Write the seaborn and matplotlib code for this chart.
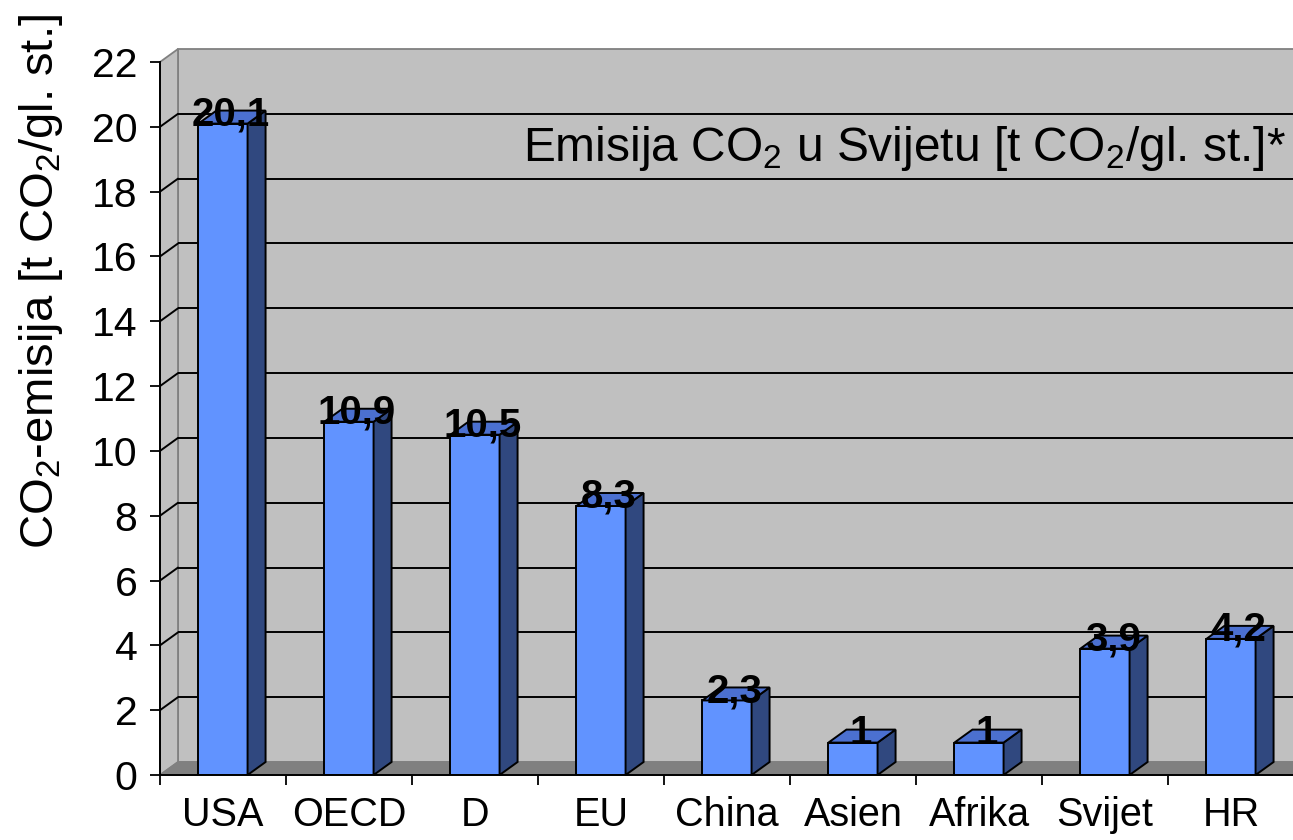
import numpy as np
import pandas as pd
import matplotlib
matplotlib.use("Agg")
import matplotlib.pyplot as plt
from matplotlib.patches import Polygon
from matplotlib.ticker import FixedLocator
import seaborn as sns

# Per-capita CO2 emissions by region
regions = ["USA", "OECD", "D", "EU", "China", "Asien", "Afrika", "Svijet", "HR"]
emissions = [20.1, 10.9, 10.5, 8.3, 2.3, 1, 1, 3.9, 4.2]
y_ticks = list(range(0, 23, 2))

sns.set_theme(style="white")
plt.rcParams["font.family"] = ["Liberation Sans", "DejaVu Sans"]
plt.rcParams["mathtext.fontset"] = "custom"
plt.rcParams["mathtext.rm"] = "Liberation Sans"
plt.rcParams["mathtext.it"] = "Liberation Sans:italic"
plt.rcParams["mathtext.bf"] = "Liberation Sans:bold"

FRONT = "#6193FF"
SIDE = "#30487F"
TOP = "#4B70D0"
WALL = "#C0C0C0"
FLOOR = "#808080"
WALL_EDGE = "#808080"

W, H = 1293, 840
fig = plt.figure(figsize=(W / 100, H / 100), dpi=100)
ax = fig.add_axes([160 / W, 65 / H, 1134 / W, 713 / H])

df = pd.DataFrame({"region": regions, "co2": emissions})
sns.barplot(data=df, x="region", y="co2", order=regions, color=FRONT,
            saturation=1, width=0.39, edgecolor="black", linewidth=1.4,
            ax=ax, zorder=4)

n = len(regions)
ymax = y_ticks[-1]
ax.set_xlim(-0.5, n - 0.5)
ax.set_ylim(0, ymax)
ax.set_xlabel("")
ax.set_ylabel("")
ax.set_facecolor("white")

# 3-D depth offset (pixels) expressed in data units
dx = 18 / (ax.bbox.width / n)
dy = 13 / (ax.bbox.height / ymax)

x_left = -0.5
x_far = n + 1.0

# back wall, side wall and floor
back = Polygon([(x_left + dx, dy), (x_far + dx, dy), (x_far + dx, ymax + dy),
                (x_left + dx, ymax + dy)], closed=True, facecolor=WALL,
               edgecolor=WALL_EDGE, linewidth=1.3, zorder=0.5, clip_on=False)
side_wall = Polygon([(x_left, 0), (x_left + dx, dy), (x_left + dx, ymax + dy),
                     (x_left, ymax)], closed=True, facecolor=WALL,
                    edgecolor=WALL_EDGE, linewidth=1.3, zorder=0.6, clip_on=False)
floor = Polygon([(x_left, 0), (x_far, 0), (x_far + dx, dy), (x_left + dx, dy)],
                closed=True, facecolor=FLOOR, edgecolor=WALL_EDGE,
                linewidth=1.0, zorder=0.8, clip_on=False)
for p in (back, side_wall, floor):
    ax.add_patch(p)

# gridlines on the back wall and the side wall
for yv in y_ticks[1:-1]:
    ax.plot([x_left + dx, x_far + dx], [yv + dy, yv + dy], color="black",
            linewidth=1.4, zorder=0.7, clip_on=False, solid_capstyle="butt")
    ax.plot([x_left, x_left + dx], [yv, yv + dy], color="black",
            linewidth=1.4, zorder=0.7, clip_on=False)

# side and top faces of the columns, plus value labels
for patch, val in zip(ax.patches[:n], emissions):
    x0 = patch.get_x()
    w = patch.get_width()
    h = patch.get_height()
    x1 = x0 + w
    side = Polygon([(x1, 0), (x1 + dx, dy), (x1 + dx, h + dy), (x1, h)],
                   closed=True, facecolor=SIDE, edgecolor="black",
                   linewidth=1.4, zorder=4, clip_on=False)
    top = Polygon([(x0, h), (x1, h), (x1 + dx, h + dy), (x0 + dx, h + dy)],
                  closed=True, facecolor=TOP, edgecolor="black",
                  linewidth=1.4, zorder=4, clip_on=False)
    ax.add_patch(side)
    ax.add_patch(top)
    label = f"{val:g}".replace(".", ",")
    ax.text(x0 + w / 2 + 0.06, h - 0.05, label, ha="center", va="baseline",
            fontsize=29, fontweight="bold", color="black", zorder=6,
            clip_on=False)

# axes styling
for s in ("top", "right"):
    ax.spines[s].set_visible(False)
for s in ("left", "bottom"):
    ax.spines[s].set_color("black")
    ax.spines[s].set_linewidth(1.4)
    ax.spines[s].set_zorder(5)

ax.set_yticks(y_ticks)
ax.set_yticklabels([str(t) for t in y_ticks])
ax.tick_params(axis="y", which="major", left=True, length=7.2, width=1.3,
               pad=9, labelsize=29.5, colors="black", direction="out")
ax.tick_params(axis="x", which="major", bottom=True, length=0, pad=15,
               labelsize=28.5, colors="black")
ax.xaxis.set_minor_locator(FixedLocator(np.arange(-0.5, n + 0.5, 1.0)))
ax.tick_params(axis="x", which="minor", bottom=True, length=7.2, width=1.3,
               color="black", direction="out")

fig.text(1286 / W, 1 - 161 / H,
         r"Emisija CO$_\mathregular{2}$ u Svijetu [t CO$_\mathregular{2}$/gl. st.]*",
         ha="right", va="baseline", fontsize=34.5, color="black")
fig.text(41 / W, 1 - 282 / H,
         r"CO$_\mathregular{2}$-emisija [t CO$_\mathregular{2}$/gl. st.]",
         rotation=90, ha="center", va="center", fontsize=34, color="black")

fig.savefig("out.png", dpi=100)
